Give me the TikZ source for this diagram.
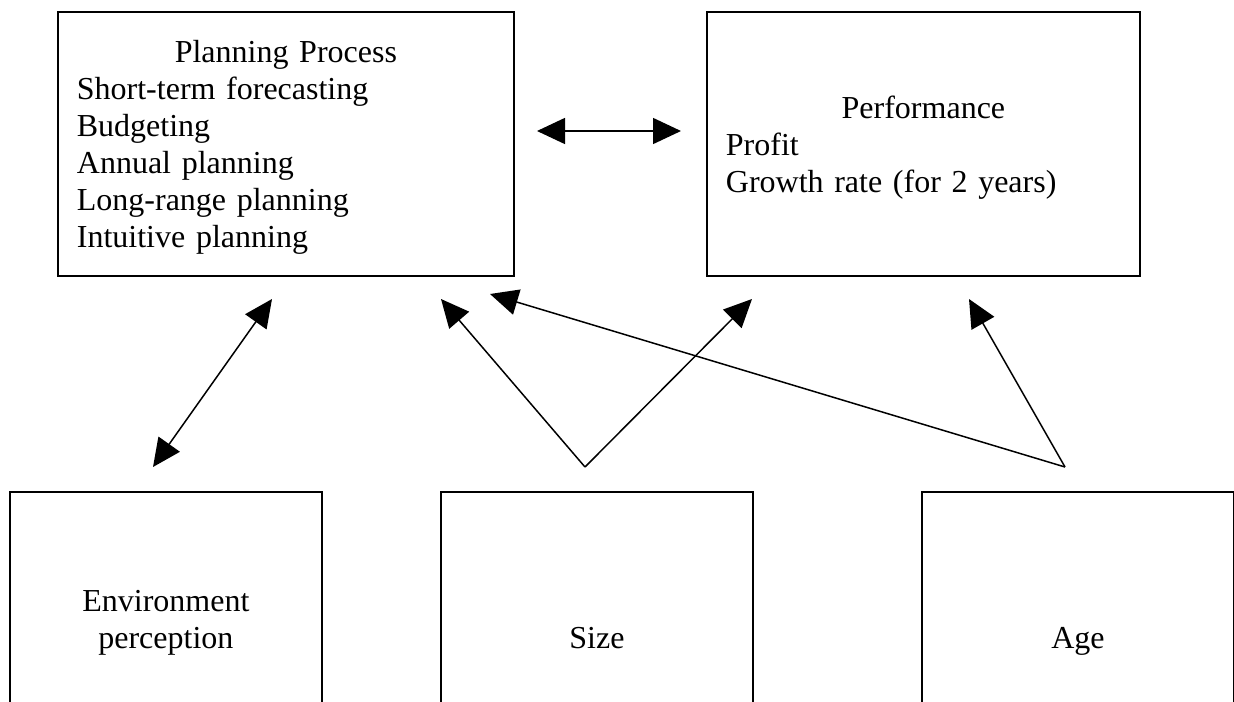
\documentclass[tikz,border=0pt]{standalone}
\usepackage{fontspec}
\setmainfont{Liberation Serif}
\usepackage{tikz}
\usetikzlibrary{arrows.meta,positioning}

\begin{document}
\begin{tikzpicture}[x=0.5pt, y=-0.5pt, font=\fontsize{16}{18.5}\selectfont,
  box/.style={draw, line width=0.9pt, anchor=north west, inner xsep=9.5pt, inner ysep=0pt},
  topbox/.style={box, text width=#1, align=left, minimum height=132pt},
  lowbox/.style={box, minimum width=156pt, minimum height=150pt, align=center, text height=11pt, text depth=4pt},
  link/.style={line width=0.75pt, -{Triangle[length=14pt, width=13pt]}},
  twoway/.style={line width=0.75pt, {Triangle[length=14pt, width=13pt]}-{Triangle[length=14pt, width=13pt]}}]
  \useasboundingbox (0,0) rectangle (1234,701);
  \clip (0,0) rectangle (1234,701);

  \node[topbox=209pt] (plan) at (57,11)
    {\rule{0pt}{15pt}\makebox[\hsize]{Planning Process}\\ Short-term forecasting\\ Budgeting\\ Annual planning\\ Long-range planning\\ Intuitive planning};
  \node[topbox=197.5pt] (perf) at (706,11)
    {\rule{0pt}{15pt}\makebox[\hsize]{Performance}\\ Profit\\ Growth rate (for 2 years)};

  \node[lowbox, text height=29.5pt, text depth=22.5pt] (env) at (9,491) {Environment\\perception};
  \node[lowbox] (size) at (440,491) {Size};
  \node[lowbox] (age) at (921,491) {Age};

  \coordinate (pl) at (537,131);
  \coordinate (pr) at (681,131);
  \coordinate (et) at (272,299);
  \coordinate (eb) at (153,467);
  \coordinate (sz) at (585,467);
  \coordinate (szl) at (441,299);
  \coordinate (szr) at (752,299);
  \coordinate (ag) at (1065,467);
  \coordinate (agl) at (490,294);
  \coordinate (agr) at (969,299);

  \draw[twoway] (pl) -- (pr);
  \draw[twoway] (eb) -- (et);
  \draw[link] (sz) -- (szl);
  \draw[link] (sz) -- (szr);
  \draw[link] (ag) -- (agl);
  \draw[link] (ag) -- (agr);
\end{tikzpicture}
\end{document}
